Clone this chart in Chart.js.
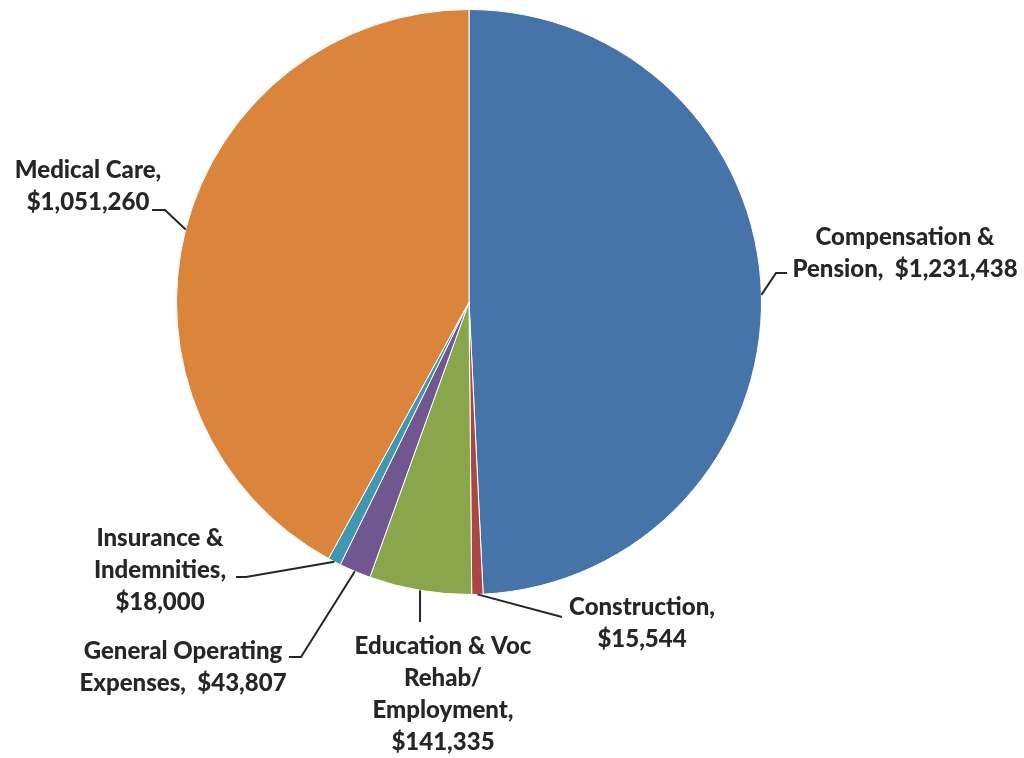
<!DOCTYPE html>
<html>
<head>
<meta charset="utf-8">
<script src="https://cdn.jsdelivr.net/npm/chart.js@4"></script>
<style>
  html, body { margin: 0; padding: 0; background: #fff; }
  #wrap { width: 1024px; height: 758px; }
</style>
</head>
<body>
<div id="wrap"><canvas id="chartPie" width="1024" height="758"></canvas></div>
<script>
// ===============================
// Data
// ===============================
const categories = [
    "Compensation & Pension",
    "Construction",
    "Education & Voc Rehab/ Employment",
    "General Operating Expenses",
    "Insurance & Indemnities",
    "Medical Care"
];
const amounts = [1231438, 15544, 141335, 43807, 18000, 1051260];
const colors = ["#4674A8", "#AA4644", "#8AA64C", "#71578F", "#4097B0", "#DB843C"];

// line breaks of the labels (text only; the value is appended)
const labelLines = [
    ["Compensation &", "Pension,  {v}"],
    ["Construction,", "{v}"],
    ["Education & Voc", "Rehab/", "Employment,", "{v}"],
    ["General Operating", "Expenses,  {v}"],
    ["Insurance &", "Indemnities,", "{v}"],
    ["Medical Care,", "{v}"]
];

function money(v) {
    return "$" + v.toLocaleString("en-US");
}

// ===============================
// Label placement (layout)
// ===============================
const labelLayout = [
    { x: 905, y: 237, elbow: [776, 273], end: [787, 273] },
    { x: 642, y: 607, elbow: [562, 617], end: [562, 617] },
    { x: 443, y: 646, elbow: null, end: null, drop: 622 },
    { x: 183, y: 651, elbow: [301, 657], end: [289, 657] },
    { x: 160, y: 538, elbow: [246, 577], end: [236, 577] },
    { x: 88, y: 170, elbow: [165, 210], end: [152, 210] }
];

const leaderLabels = {
    id: "leaderLabels",
    afterDraw(chart) {
        const c = chart.ctx;
        const arcs = chart.getDatasetMeta(0).data;
        c.save();
        c.strokeStyle = "#262626";
        c.lineWidth = 2;
        arcs.forEach((arc, i) => {
            const p = arc.getProps(["x", "y", "startAngle", "endAngle", "outerRadius"], true);
            const mid = (p.startAngle + p.endAngle) / 2;
            const sx = p.x + Math.cos(mid) * p.outerRadius;
            const sy = p.y + Math.sin(mid) * p.outerRadius;
            const L = labelLayout[i];
            c.beginPath();
            c.moveTo(sx, sy);
            if (L.drop) {
                c.lineTo(sx, L.drop);
            } else {
                c.lineTo(L.elbow[0], L.elbow[1]);
                c.lineTo(L.end[0], L.end[1]);
            }
            c.stroke();

            c.fillStyle = "#262626";
            c.font = "900 24px Lato, 'Open Sans', sans-serif";
            c.textAlign = "center";
            c.textBaseline = "middle";
            labelLines[i].forEach((t, k) => {
                c.fillText(t.replace("{v}", money(amounts[i])), L.x, L.y + k * 32);
            });
        });
        c.restore();
    }
};

// ===============================
// Chart
// ===============================
const ctx = document.getElementById("chartPie");

new Chart(ctx, {
    type: "pie",
    data: {
        labels: categories,
        datasets: [{
            data: amounts,
            backgroundColor: colors,
            borderColor: "#ffffff",
            borderWidth: 1
        }]
    },
    options: {
        responsive: false,
        animation: false,
        layout: {
            padding: { left: 176, top: 9, right: 262, bottom: 163 }
        },
        plugins: {
            legend: { display: false },
            tooltip: { enabled: false }
        }
    },
    plugins: [leaderLabels]
});
</script>
</body>
</html>
